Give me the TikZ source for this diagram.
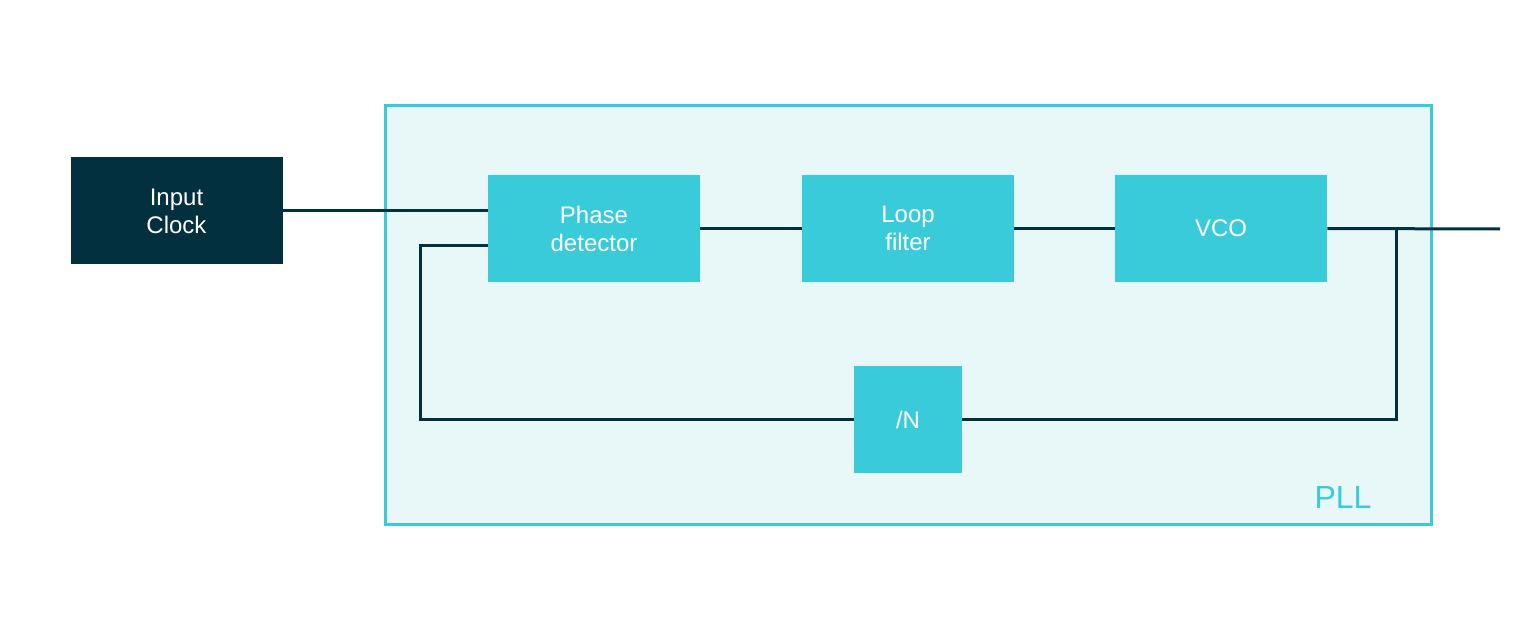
\documentclass[tikz,border=0pt]{standalone}
\usepackage{fontspec}
\setmainfont{Liberation Sans}
\definecolor{dark}{HTML}{02303F}
\definecolor{cyan}{HTML}{3ACBDA}
\definecolor{pale}{HTML}{E8F7F8}
\begin{document}
\begin{tikzpicture}[x=0.5pt,y=-0.5pt,
  blk/.style={fill=cyan,draw=none,text=white,font=\fontsize{12}{14}\selectfont,align=center,inner sep=0,minimum width=106pt,minimum height=53.5pt},
  wire/.style={draw=dark,line width=1.5pt}]
\useasboundingbox (0,0) rectangle (1536,630);
\node[draw=cyan,fill=pale,line width=1.5pt,minimum width=523pt,minimum height=209pt,inner sep=0] (pll) at (908,315) {};
\node[text=cyan,font=\fontsize{16}{18}\selectfont] (lbl) at (1343,497) {PLL};
\node[blk,fill=dark] (in) at (176.5,211) {Input\\Clock};
\node[blk] (pd) at (594,228.5) {Phase\\detector};
\node[blk] (lf) at (908,228.5) {Loop\\filter};
\node[blk] (vco) at (1221,228.5) {VCO};
\node[blk,minimum width=54pt] (n) at (908,419.5) {/N};
\coordinate (out) at (1500,229);
\draw[wire] (in.east) -- (pd.west |- in.east);
\draw[wire] (pd.east) -- (lf.west);
\draw[wire] (lf.east) -- (vco.west);
\draw[wire] (vco.east) -- (out);
\draw[wire] (1396,229) |- (n.east);
\draw[wire] (n.west) -| (420,246) -- (pd.west |- 0,246);
\end{tikzpicture}
\end{document}
